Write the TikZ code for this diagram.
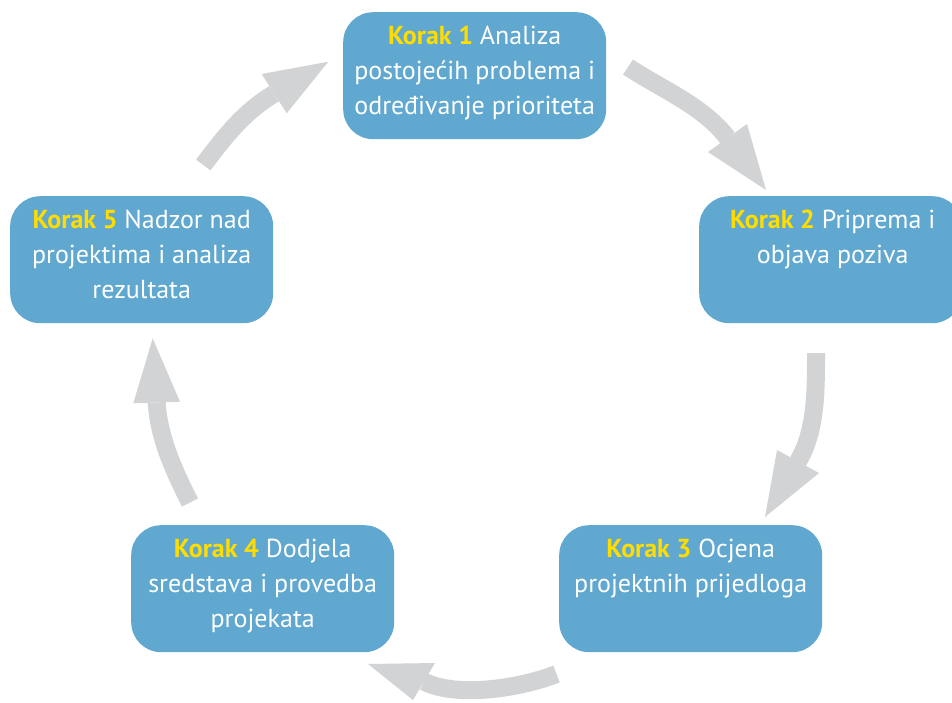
\documentclass[tikz,border=0pt]{standalone}
\usepackage{fontspec}
\setmainfont{PT Sans}
\definecolor{boxblue}{RGB}{96,168,207}
\definecolor{kyellow}{RGB}{255,221,0}
\definecolor{agray}{RGB}{209,211,212}
\newcommand{\korak}[1]{\textcolor{kyellow}{\textbf{Korak #1}}}
\begin{document}
\begin{tikzpicture}[x=1pt,y=-1pt,
  stepbox/.style={fill=boxblue, rounded corners=30pt, minimum width=263pt, minimum height=127pt, inner sep=0pt, anchor=north west},
  steptext/.style={text=white, font=\fontsize{26}{35}\selectfont, align=center, anchor=north, inner sep=0pt},
  arrowshaft/.style={draw=agray, line width=18pt},
  arrowhead/.style={fill=agray, draw=none}]
\useasboundingbox (0,0) rectangle (952,702);
\clip (0,0) rectangle (952,702);
% boxes
\node[stepbox] (b1) at (343,12) {};
\node[stepbox] (b2) at (699,196) {};
\node[stepbox] (b3) at (559,525) {};
\node[stepbox] (b4) at (131,525) {};
\node[stepbox] (b5) at (10,196) {};
% texts
\node[steptext] (t1) at ([yshift=-14pt]b1.north) {\korak{1} Analiza\\postojećih problema i\\određivanje prioriteta};
\node[steptext] (t2) at ([yshift=-14pt,xshift=2pt]b2.north) {\korak{2} Priprema i\\objava poziva};
\node[steptext] (t3) at ([yshift=-14pt]b3.north) {\korak{3} Ocjena\\projektnih prijedloga};
\node[steptext] (t4) at ([yshift=-14pt]b4.north) {\korak{4} Dodjela\\sredstava i provedba\\projekata};
\node[steptext] (t5) at ([yshift=-14pt]b5.north) {\korak{5} Nadzor nad\\projektima i analiza\\rezultata};
% arrows
\coordinate (a1s) at (628,67);  \coordinate (a1e) at (727.5,138);
\coordinate (a2s) at (816,353); \coordinate (a2e) at (798,461.5);
\coordinate (a3s) at (556.5,674); \coordinate (a3e) at (424,681.5);
\coordinate (a4s) at (190,502.5); \coordinate (a4e) at (156.7,402.5);
\coordinate (a5s) at (203.3,165); \coordinate (a5e) at (274.2,93.7);
\draw[arrowshaft] (a1s) .. controls (661,89) and (703.5,106) .. (a1e);
\fill[arrowhead] (708,152) -- (747,124) -- (766,190) -- cycle;
\draw[arrowshaft] (a2s) .. controls (816,393) and (816,431) .. (a2e);
\fill[arrowhead] (777,450) -- (819,473) -- (765,517) -- cycle;
\draw[arrowshaft] (a3s) .. controls (519.5,688.5) and (456,698) .. (a3e);
\fill[arrowhead] (435,663) -- (413,700) -- (368,664) -- cycle;
\draw[arrowshaft] (a4s) .. controls (174,471) and (158.7,437.5) .. (a4e);
\fill[arrowhead] (133.3,403.3) -- (180,401.7) -- (152.7,338.3) -- cycle;
\draw[arrowshaft] (a5s) .. controls (224.3,137) and (244,111.6) .. (a5e);
\fill[arrowhead] (261.7,74) -- (286.7,113.3) -- (328.3,61.7) -- cycle;
\end{tikzpicture}
\end{document}
